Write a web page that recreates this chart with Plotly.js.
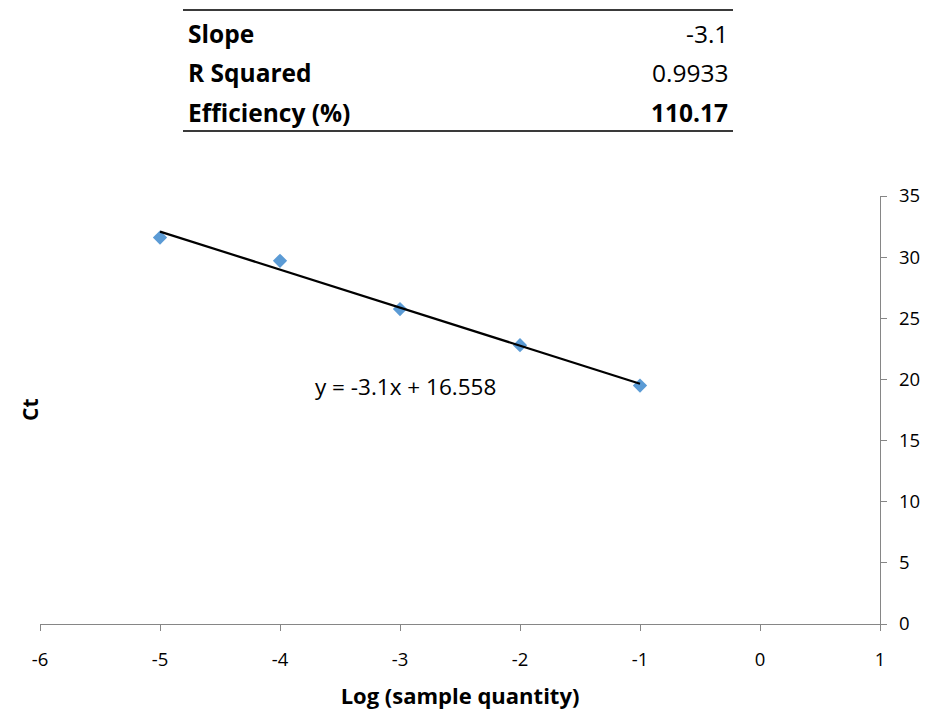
<!DOCTYPE html>
<html>
<head>
<meta charset="utf-8">
<script src="https://cdn.plot.ly/plotly-3.0.1.min.js"></script>
<style>html,body{margin:0;padding:0;background:#fff;}#chart{width:938px;height:713px;}</style>
</head>
<body>
<div id="chart"></div>
<script>
// Data
const logQuantity = [-5, -4, -3, -2, -1];
const ctValues = [31.6, 29.7, 25.75, 22.8, 19.5];
const tableLabels = ["Slope", "R Squared", "Efficiency (%)"];
const tableValues = ["-3.1", "0.9933", "110.17"];
const tableValueBold = [false, false, true];
const equationText = "y = -3.1x + 16.558";
const xTicks = [-6, -5, -4, -3, -2, -1, 0, 1];
const yTicks = [0, 5, 10, 15, 20, 25, 30, 35];

// Linear regression for trendline
const n = logQuantity.length;
const mx = logQuantity.reduce((a, b) => a + b, 0) / n;
const my = ctValues.reduce((a, b) => a + b, 0) / n;
let sxy = 0, sxx = 0;
for (let i = 0; i < n; i++) { sxy += (logQuantity[i] - mx) * (ctValues[i] - my); sxx += (logQuantity[i] - mx) ** 2; }
const slope = sxy / sxx, intercept = my - slope * mx;
const xMin = Math.min(...logQuantity), xMax = Math.max(...logQuantity);
const trendX = [xMin, xMax];
const trendY = trendX.map(x => slope * x + intercept);

const FONT = "'Open Sans', sans-serif";
const W = 938, H = 713;
const M = {l: 40, r: 58, t: 196, b: 89};
const pw = W - M.l - M.r, ph = H - M.t - M.b;
const px = v => (v - M.l) / pw;          // pixel x -> paper
const py = v => (H - M.b - v) / ph;      // pixel y -> paper

const traces = [
  {x: logQuantity, y: ctValues, type: "scatter", mode: "markers",
   marker: {symbol: "diamond", size: 11, color: "#5B9BD5"}, showlegend: false, hoverinfo: "x+y"},
  {x: trendX, y: trendY, type: "scatter", mode: "lines",
   line: {color: "#000000", width: 2.2}, showlegend: false, hoverinfo: "skip"}
];

const rowY = [33, 72, 112];
const annotations = [];
tableLabels.forEach((lab, i) => {
  annotations.push({xref: "paper", yref: "paper", x: px(186), y: py(rowY[i]), xanchor: "left", yanchor: "middle",
    text: "<b>" + lab + "</b>", showarrow: false, font: {family: FONT, size: 24.5, color: "#000"}});
  annotations.push({xref: "paper", yref: "paper", x: px(730), y: py(rowY[i]), xanchor: "right", yanchor: "middle",
    text: tableValueBold[i] ? "<b>" + tableValues[i] + "</b>" : tableValues[i], showarrow: false,
    font: {family: FONT, size: 24.5, color: "#000"}});
});
annotations.push({xref: "paper", yref: "paper", x: px(405), y: py(386), xanchor: "center", yanchor: "middle",
  text: equationText, showarrow: false, font: {family: FONT, size: 22.5, color: "#000"}});
annotations.push({xref: "paper", yref: "paper", x: px(30), y: py(410), xanchor: "center", yanchor: "middle",
  text: "<b>Ct</b>", textangle: -90, showarrow: false, font: {family: FONT, size: 21, color: "#000"}});

const shapes = [
  {type: "line", xref: "paper", yref: "paper", x0: px(183), x1: px(733), y0: py(10), y1: py(10), line: {color: "#3a3a3a", width: 2}},
  {type: "line", xref: "paper", yref: "paper", x0: px(183), x1: px(733), y0: py(131), y1: py(131), line: {color: "#3a3a3a", width: 2}}
];

const layout = {
  width: W, height: H, margin: M,
  paper_bgcolor: "#fff", plot_bgcolor: "#fff",
  font: {family: FONT, size: 17, color: "#000"},
  xaxis: {range: [-6, 1], tickvals: xTicks, ticktext: xTicks.map(String), showgrid: false, zeroline: false,
    showline: true, linecolor: "#868686", linewidth: 1.3, ticks: "outside", ticklen: 6, tickcolor: "#868686",
    tickfont: {family: FONT, size: 18.5, color: "#000"}, ticklabelstandoff: 12,
    title: {text: "<b>Log (sample quantity)</b>", font: {family: FONT, size: 22}, standoff: 19},
    fixedrange: true},
  yaxis: {range: [0, 35], side: "right", tickvals: yTicks, ticktext: yTicks.map(String), showgrid: false, zeroline: false,
    showline: true, linecolor: "#868686", linewidth: 1.3, ticks: "outside", ticklen: 6, tickcolor: "#868686",
    tickfont: {family: FONT, size: 18.5, color: "#000"}, ticklabelstandoff: 8, fixedrange: true},
  annotations: annotations, shapes: shapes
};

Plotly.newPlot("chart", traces, layout, {displayModeBar: false, staticPlot: true});
</script>
</body>
</html>
